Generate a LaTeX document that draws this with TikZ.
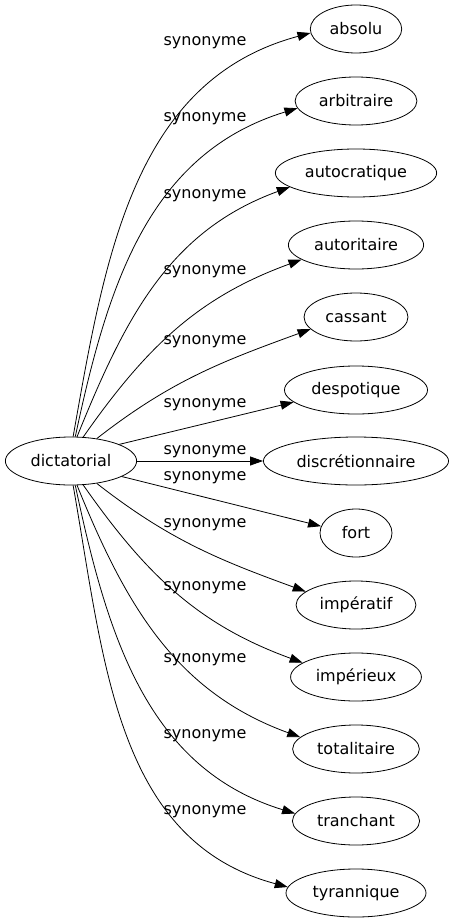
\documentclass[tikz,border=0pt]{standalone}
\usepackage{fontspec}
\setmainfont{DejaVu Sans}
\usetikzlibrary{shapes.geometric, arrows.meta}

\begin{document}
\begin{tikzpicture}[x=1pt, y=1pt,
    word/.style={draw, ellipse, line width=0.8pt, inner xsep=6pt, inner ysep=2pt,
        minimum width=72pt, minimum height=48pt, font=\fontsize{16}{19}\selectfont},
    lab/.style={inner sep=0pt, font=\fontsize{16}{19}\selectfont},
    syn/.style={line width=0.8pt, -{Triangle[length=13pt, width=9pt]}}]
    \useasboundingbox (0, 0) rectangle (453, -923);

    % centre word
    \node[word] (dictatorial) at (71, -461) {dictatorial};

    % synonyms
    \node[word] (absolu) at (356, -29) {absolu};
    \node[word] (arbitraire) at (356, -101) {arbitraire};
    \node[word] (autocratique) at (356, -173) {autocratique};
    \node[word] (autoritaire) at (356, -245) {autoritaire};
    \node[word] (cassant) at (356, -317) {cassant};
    \node[word] (despotique) at (356, -390) {despotique};
    \node[word] (discretionnaire) at (356, -461) {discrétionnaire};
    \node[word] (fort) at (356, -533) {fort};
    \node[word] (imperatif) at (356, -605) {impératif};
    \node[word] (imperieux) at (356, -677) {impérieux};
    \node[word] (totalitaire) at (356, -749) {totalitaire};
    \node[word] (tranchant) at (356, -821) {tranchant};
    \node[word] (tyrannique) at (356, -893) {tyrannique};

    % upper edges
    \draw[syn] (dictatorial.85) to[out=80, in=195] (absolu.185);
    \node[lab] (l-absolu) at (205, -43) {synonyme};
    \draw[syn] (dictatorial.80) to[out=78, in=197] (arbitraire.187);
    \node[lab] (l-arbitraire) at (205, -119) {synonyme};
    \draw[syn] (dictatorial.76) to[out=68, in=200] (autocratique.192);
    \node[lab] (l-autocratique) at (205, -196) {synonyme};
    \draw[syn] (dictatorial.63) to[out=55, in=200] (autoritaire.195);
    \node[lab] (l-autoritaire) at (205, -272) {synonyme};
    \draw[syn] (dictatorial.41) to[out=38, in=200] (cassant.195);
    \node[lab] (l-cassant) at (205, -342) {synonyme};
    \draw[syn] (dictatorial.19) -- (despotique.191);
    \node[lab] (l-despotique) at (205, -405) {synonyme};

    % middle edges
    \draw[syn] (dictatorial) -- (discretionnaire);
    \node[lab] (l-discretionnaire) at (205, -452) {synonyme};
    \draw[syn] (dictatorial.-17) -- (fort.169);
    \node[lab] (l-fort) at (205, -478) {synonyme};

    % lower edges
    \draw[syn] (dictatorial.-41) to[out=-38, in=160] (imperatif.165);
    \node[lab] (l-imperatif) at (205, -525) {synonyme};
    \draw[syn] (dictatorial.-63) to[out=-55, in=160] (imperieux.165);
    \node[lab] (l-imperieux) at (205, -588) {synonyme};
    \draw[syn] (dictatorial.-76) to[out=-68, in=160] (totalitaire.168);
    \node[lab] (l-totalitaire) at (205, -660) {synonyme};
    \draw[syn] (dictatorial.-80) to[out=-78, in=163] (tranchant.173);
    \node[lab] (l-tranchant) at (205, -736) {synonyme};
    \draw[syn] (dictatorial.-85) to[out=-80, in=165] (tyrannique.175);
    \node[lab] (l-tyrannique) at (205, -812) {synonyme};
\end{tikzpicture}
\end{document}
